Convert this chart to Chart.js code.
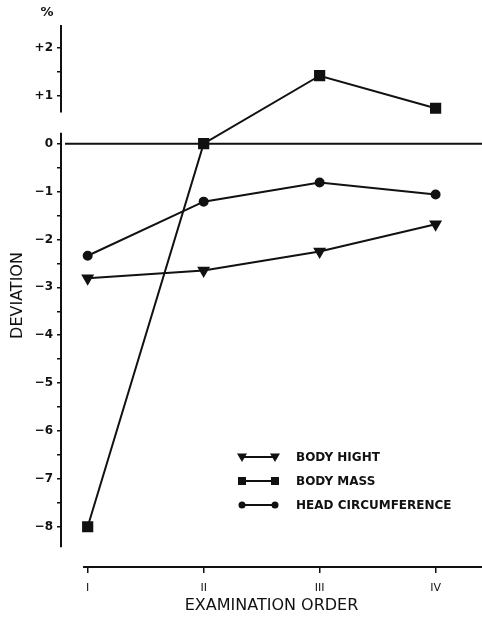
<!DOCTYPE html>
<html>
<head>
<meta charset="utf-8">
<script src="https://cdn.jsdelivr.net/npm/chart.js@4.4.0/dist/chart.umd.min.js"></script>
<style>
  html, body { margin: 0; padding: 0; background: #fff; overflow: hidden; }
  .chart-box { position: relative; width: 482px; height: 619px; }
  canvas { display: block; }
</style>
</head>
<body>
<div class="chart-box"><canvas id="deviation-chart"></canvas></div>
<script>
  // Data (percent deviation)
  const examinations = ["I", "II", "III", "IV"];
  const bodyHight = [-2.81, -2.65, -2.25, -1.68];
  const bodyMass = [-8.0, 0.0, 1.42, 0.74];
  const headCircumference = [-2.34, -1.21, -0.81, -1.06];
  const seriesNames = ["BODY HIGHT", "BODY MASS", "HEAD CIRCUMFERENCE"];
  const yLabelled = [2, 1, 0, -1, -2, -3, -4, -5, -6, -7, -8];

  Chart.defaults.font.family = "DejaVu Sans";
  Chart.defaults.color = "#111";

  function toPoints(values) {
    return values.map((v, i) => ({ x: i + 1, y: v }));
  }

  function drawMarker(ctx, style, x, y) {
    ctx.beginPath();
    if (style === "triangle") {
      ctx.moveTo(x - 5, y - 3.5);
      ctx.lineTo(x + 5, y - 3.5);
      ctx.lineTo(x, y + 5);
      ctx.closePath();
    } else if (style === "rect") {
      ctx.rect(x - 4, y - 4, 8, 8);
    } else {
      ctx.arc(x, y, 3.5, 0, Math.PI * 2);
    }
    ctx.fill();
  }

  // axis with break, zero line, detached x axis, legend inside the plot
  const paperAxes = {
    id: "paperAxes",
    afterDraw(chart) {
      const ctx = chart.ctx;
      const ys = chart.scales.y;
      const xs = chart.scales.x;
      const area = chart.chartArea;
      ctx.save();
      ctx.strokeStyle = "#111";
      ctx.fillStyle = "#111";
      ctx.lineWidth = 2;
      ctx.beginPath();
      ctx.moveTo(area.left, ys.getPixelForValue(2.48));
      ctx.lineTo(area.left, ys.getPixelForValue(0.65));
      ctx.moveTo(area.left, ys.getPixelForValue(0.23));
      ctx.lineTo(area.left, ys.getPixelForValue(-8.43));
      ctx.moveTo(area.left + 4, ys.getPixelForValue(0));
      ctx.lineTo(area.right, ys.getPixelForValue(0));
      ctx.moveTo(xs.getPixelForValue(0.96), area.bottom);
      ctx.lineTo(area.right, area.bottom);
      ctx.stroke();

      ctx.font = "bold 13px DejaVu Sans";
      ctx.textAlign = "center";
      ctx.textBaseline = "middle";
      ctx.fillText("%", 47, 13);

      // legend
      const styles = ["triangle", "rect", "circle"];
      ctx.font = "bold 12px DejaVu Sans";
      ctx.textAlign = "left";
      styles.forEach((s, i) => {
        const ly = 457 + i * 24;
        ctx.beginPath();
        ctx.moveTo(242, ly);
        ctx.lineTo(275, ly);
        ctx.stroke();
        drawMarker(ctx, s, 242, ly);
        drawMarker(ctx, s, 275, ly);
        ctx.fillText(seriesNames[i], 296, ly + 1);
      });
      ctx.restore();
    },
  };

  const lineStyle = {
    borderColor: "#111",
    backgroundColor: "#111",
    borderWidth: 2,
    tension: 0,
    fill: false,
  };

  new Chart(document.getElementById("deviation-chart"), {
    type: "line",
    data: {
      datasets: [
        { ...lineStyle, label: seriesNames[0], data: toPoints(bodyHight), pointStyle: "triangle", pointRadius: 5.5, pointRotation: 180 },
        { ...lineStyle, label: seriesNames[1], data: toPoints(bodyMass), pointStyle: "rect", pointRadius: 6.5 },
        { ...lineStyle, label: seriesNames[2], data: toPoints(headCircumference), pointStyle: "circle", pointRadius: 4 },
      ],
    },
    options: {
      responsive: true,
      maintainAspectRatio: false,
      animation: false,
      layout: { autoPadding: false, padding: { top: 24, right: 0, left: 0, bottom: 0 } },
      scales: {
        x: {
          type: "linear",
          min: 0.77,
          max: 4.4,
          afterFit: (scale) => {
            scale.height = 52;
            scale.paddingLeft = 0;
            scale.paddingRight = 0;
          },
          afterBuildTicks: (scale) => {
            scale.ticks = [1, 2, 3, 4].map((v) => ({ value: v }));
          },
          ticks: {
            callback: (v) => examinations[v - 1] || "",
            font: { size: 11 },
            padding: 9,
            maxRotation: 0,
          },
          grid: { drawOnChartArea: false, tickLength: 6, color: "#111", lineWidth: 1.5 },
          border: { display: false },
          title: {
            display: true,
            text: "EXAMINATION ORDER",
            font: { size: 16 },
            padding: { top: 0, bottom: 4 },
          },
        },
        y: {
          min: -8.84,
          max: 2.5,
          afterFit: (scale) => { scale.width = 61; },
          afterBuildTicks: (scale) => {
            const t = [];
            for (let v = -8; v <= 2; v += 0.5) t.push({ value: v });
            scale.ticks = t;
          },
          ticks: {
            autoSkip: false,
            font: { size: 12, weight: "bold" },
            padding: 4,
            callback: (v) => {
              if (!yLabelled.includes(v)) return "";
              if (v > 0) return "+" + v;
              if (v < 0) return "−" + Math.abs(v);
              return "0";
            },
          },
          grid: {
            drawOnChartArea: false,
            tickLength: 4,
            lineWidth: 1.5,
            color: (c) => (c.tick && c.tick.value === 0.5 ? "rgba(0,0,0,0)" : "#111"),
          },
          border: { display: false },
          title: {
            display: true,
            text: "DEVIATION",
            font: { size: 16 },
            padding: { top: 8, bottom: 0 },
          },
        },
      },
      plugins: {
        legend: { display: false },
        tooltip: { enabled: false },
      },
    },
    plugins: [paperAxes],
  });
</script>
</body>
</html>
